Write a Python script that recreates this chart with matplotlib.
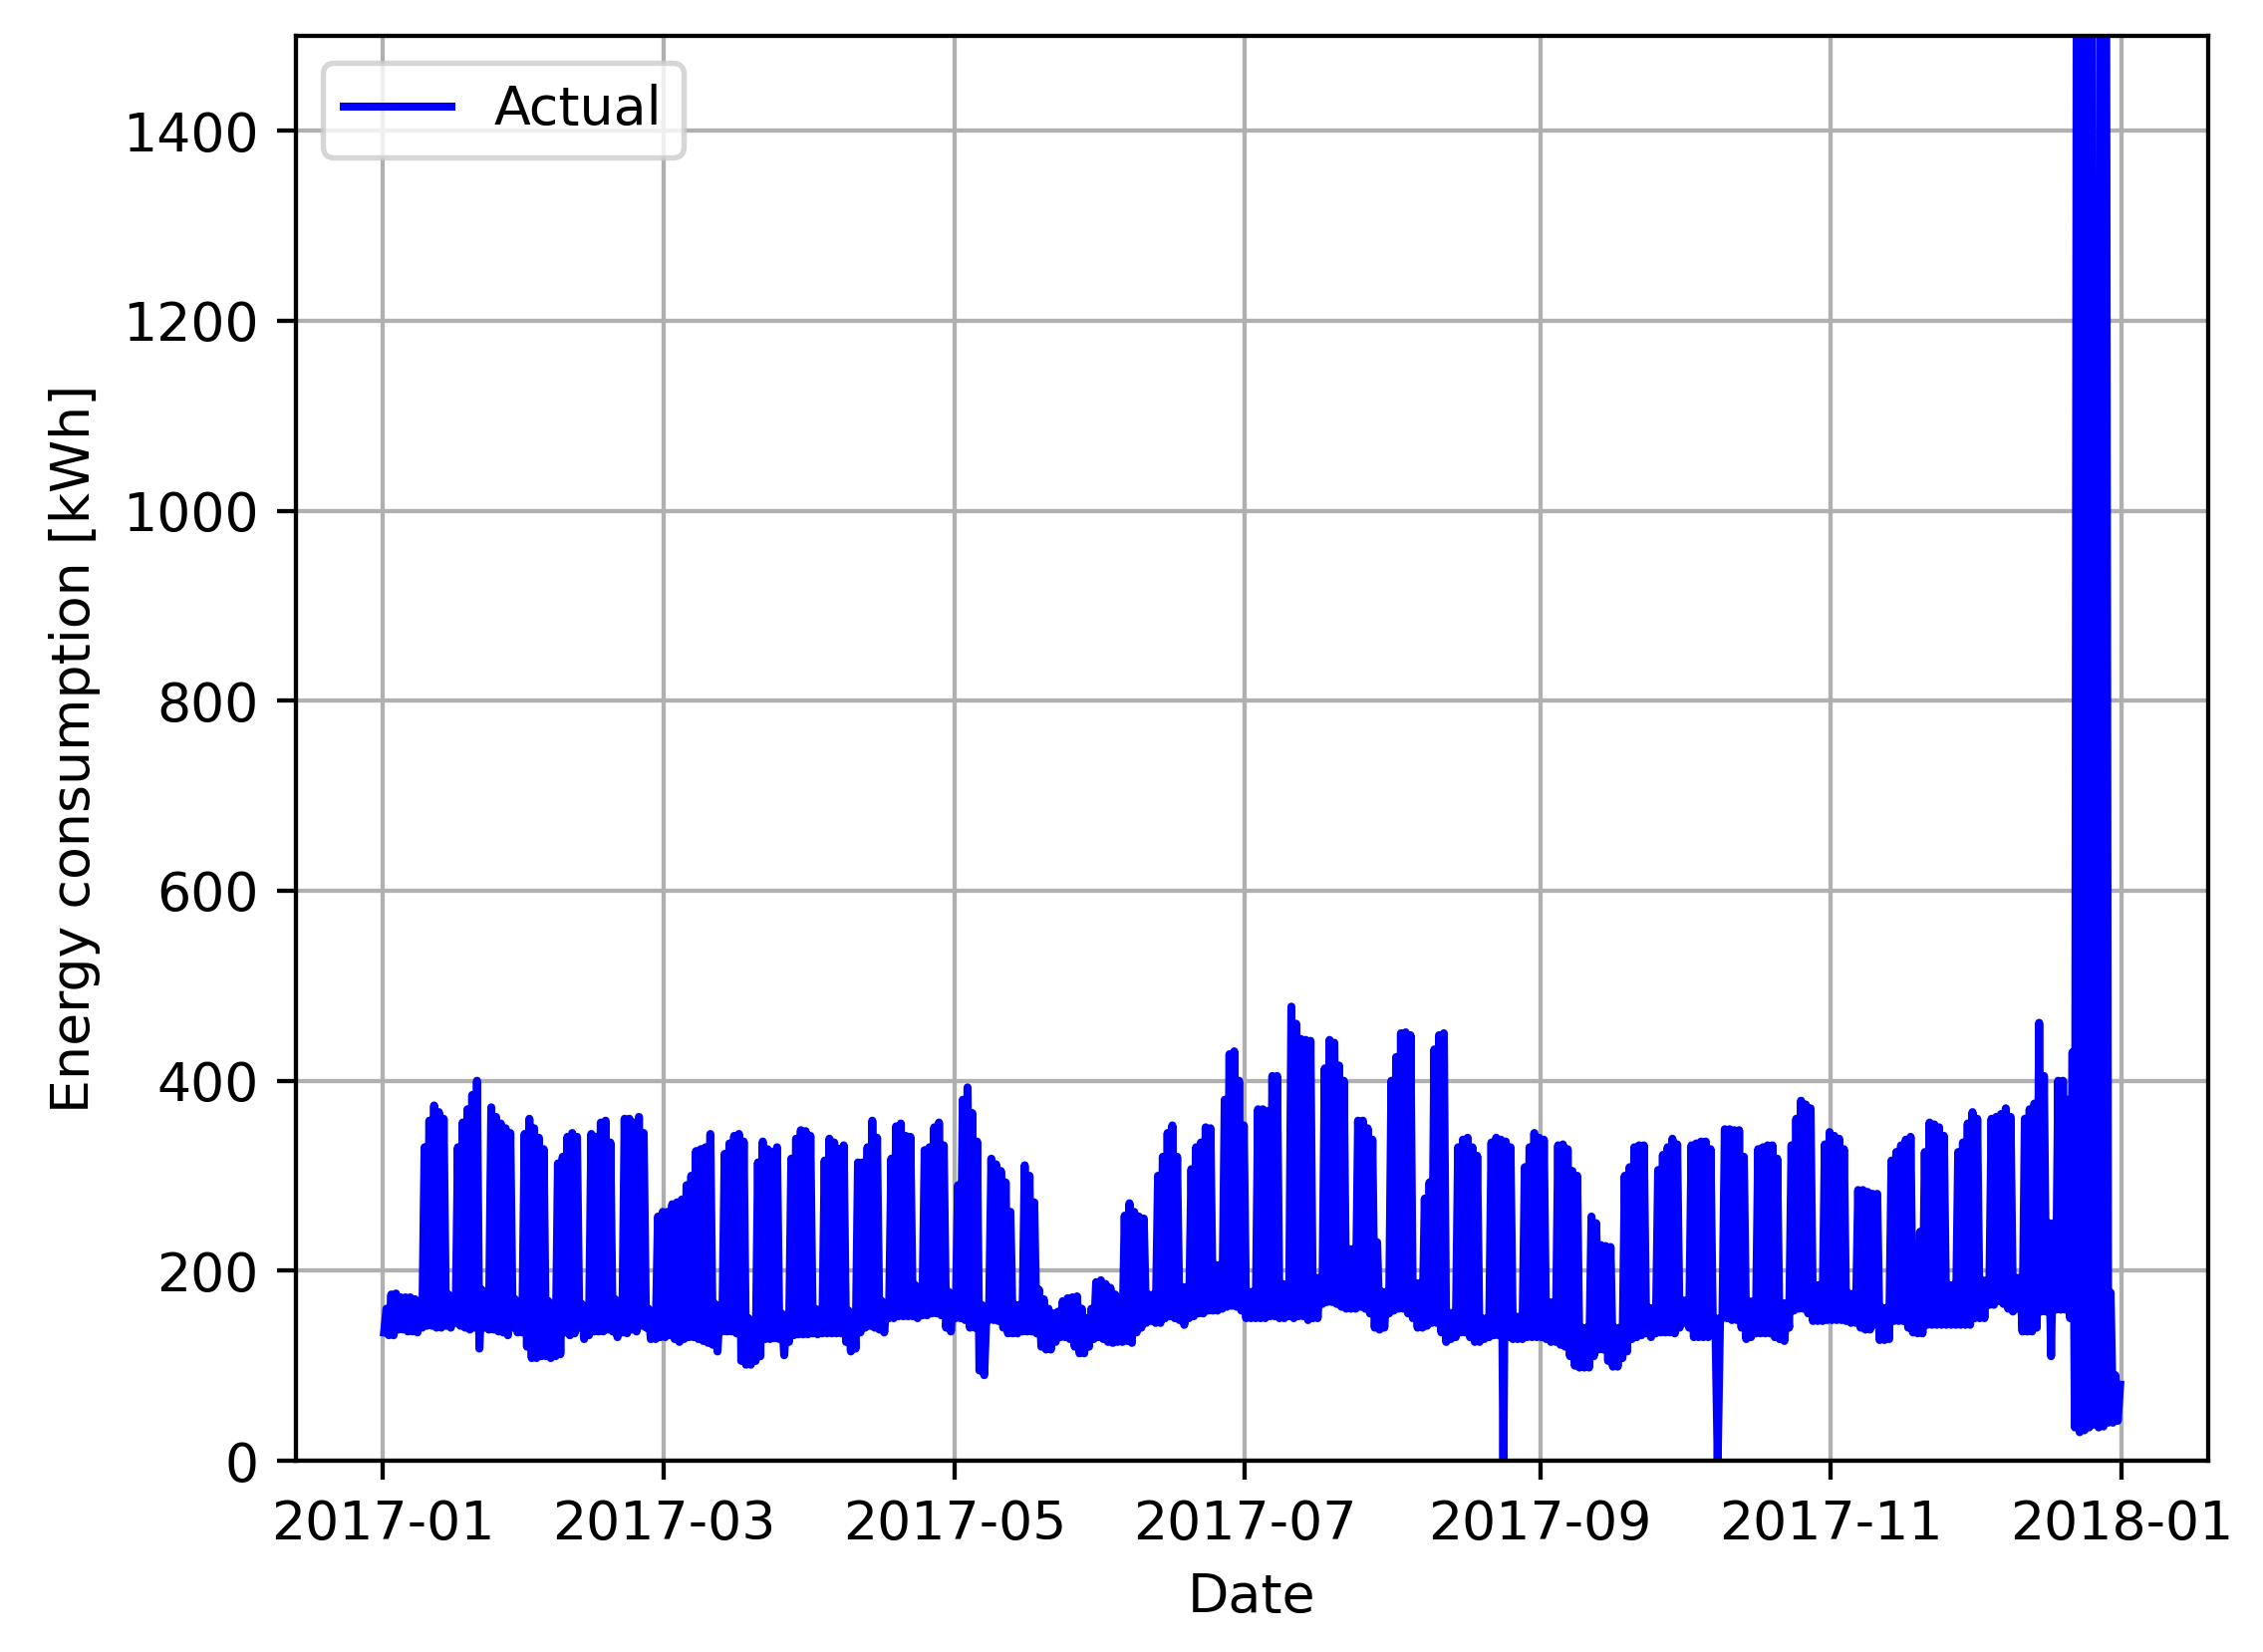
import numpy as np
import pandas as pd
import matplotlib
matplotlib.use('Agg')
import matplotlib.pyplot as plt
import matplotlib.dates as mdates

# daily maximum / minimum of the hourly consumption [kWh]
peak_jan = [160, 175, 176, 172, 172, 172, 170, 165,
            330, 358, 374, 367, 360, 175, 170,
            330, 356, 370, 385, 400, 180, 176,
            372, 362, 355, 350, 345, 170, 164,
            344, 360]
low_jan = [135, 132, 132, 138, 138, 136, 136, 135,
           140, 142, 142, 140, 140, 142, 140,
           145, 142, 140, 138, 140, 118, 140,
           138, 138, 136, 135, 132, 140, 135,
           135, 120]

peak_feb = [350, 340, 328, 168, 154,
            313, 320, 341, 345, 341, 165, 161,
            344, 341, 356, 358, 335, 170, 164,
            360, 360, 356, 362, 345, 160, 154,
            257, 262]
low_feb = [108, 108, 110, 110, 108,
           110, 112, 135, 132, 134, 140, 128,
           132, 136, 136, 136, 138, 136, 130,
           135, 134, 138, 136, 142, 140, 128,
           128, 130]

peak_mar = [262, 270, 272, 275, 290, 300, 326, 328, 330, 344, 165, 163,
            323, 334, 342, 344, 336, 150, 143,
            314, 336, 328, 325, 330, 155, 150,
            318, 339, 348, 347, 342]
low_mar = [130, 132, 128, 125, 128, 130, 130, 128, 126, 124, 122, 115,
           136, 136, 136, 134, 105, 101, 101,
           105, 110, 128, 128, 129, 128, 111,
           125, 132, 133, 133, 133]

peak_apr = [160, 159,
            316, 339, 335, 328, 332, 158, 154,
            314, 314, 330, 358, 340, 168, 166,
            318, 352, 355, 342, 341, 185, 183,
            327, 330, 351, 356, 332, 178, 175]
low_apr = [134, 133,
           134, 134, 134, 134, 134, 125, 115,
           118, 135, 140, 142, 140, 138, 135,
           150, 150, 152, 152, 152, 152, 150,
           153, 153, 155, 155, 153, 140, 136]

peak_may = [290, 380, 393, 366, 336, 164, 160,
            318, 312, 305, 293, 262, 164, 164,
            311, 300, 272, 180, 170, 160, 155,
            157, 168, 171, 172, 173, 160, 150,
            160, 188, 190]
low_may = [150, 150, 148, 140, 140, 95, 90,
           148, 148, 147, 140, 134, 134, 134,
           136, 136, 136, 134, 120, 117, 117,
           125, 130, 130, 128, 120, 113, 113,
           120, 128, 130]

peak_jun = [186, 182, 175, 170,
            258, 271, 262, 257, 255, 175, 175,
            300, 320, 345, 353, 320, 183, 183,
            307, 330, 335, 351, 350, 206, 206,
            380, 428, 431, 400, 353]
low_jun = [128, 125, 124, 125,
           125, 126, 124, 135, 140, 145, 147,
           145, 145, 150, 152, 150, 148, 143,
           150, 152, 155, 155, 158, 158, 158,
           160, 162, 163, 162, 158]

peak_jul = [178, 178,
            370, 370, 368, 405, 405, 186, 186,
            478, 460, 444, 443, 442, 193, 193,
            413, 443, 440, 416, 400, 223, 223,
            358, 358, 350, 338, 230, 178, 178,
            400]
low_jul = [150, 150,
           150, 150, 150, 152, 152, 150, 150,
           152, 150, 152, 152, 148, 150, 150,
           165, 167, 167, 165, 162, 160, 160,
           160, 162, 160, 155, 140, 138, 140,
           155]

peak_aug = [425, 450, 451, 448, 187, 187,
            276, 293, 433, 448, 450, 156, 156,
            330, 338, 340, 330, 321, 150, 150,
            335, 340, 338, 336, 330, 152, 152,
            309, 330, 345, 340]
low_aug = [158, 160, 160, 155, 150, 140,
           140, 142, 145, 145, 135, 125, 128,
           130, 135, 135, 130, 125, 125, 128,
           130, 132, 132, 0, 130, 128, 128,
           128, 130, 130, 130]

peak_sep = [338, 167, 167,
            332, 333, 328, 305, 300, 140, 140,
            257, 250, 227, 226, 225, 140, 140,
            300, 309, 330, 332, 332, 161, 161,
            306, 322, 330, 339, 333, 169]
low_sep = [130, 128, 125,
           125, 122, 120, 110, 100, 98, 98,
           98, 110, 117, 117, 105, 99, 99,
           108, 115, 128, 130, 132, 134, 130,
           134, 135, 135, 135, 134, 140]

peak_oct = [169,
            332, 334, 336, 336, 328, 150, 150,
            349, 349, 348, 348, 320, 168, 168,
            328, 330, 332, 332, 318, 166, 166,
            332, 360, 379, 375, 371, 185, 185,
            333, 346]
low_oct = [145,
           140, 130, 130, 130, 130, 135, 0,
           150, 150, 148, 148, 140, 128, 130,
           134, 134, 134, 134, 130, 128, 126,
           140, 158, 160, 160, 155, 147, 147,
           147, 148]

peak_nov = [342, 339, 328, 176, 176,
            285, 285, 283, 281, 281, 161, 161,
            316, 325, 332, 338, 341, 200, 241,
            325, 356, 354, 351, 342, 185, 185,
            325, 335, 355, 367]
low_nov = [148, 148, 148, 147, 145,
           145, 140, 138, 138, 143, 127, 127,
           128, 147, 147, 147, 140, 135, 134,
           134, 143, 143, 143, 143, 143, 143,
           143, 143, 143, 143]

peak_dec = [360, 190, 190,
            360, 362, 365, 371, 362, 193, 193,
            360, 370, 376, 461, 405, 250, 250,
            400, 400, 380, 430, 2000, 2200, 2100,
            1900, 227, 2000, 1800, 177, 90, 80]
low_dec = [150, 150, 150,
           164, 164, 168, 165, 160, 157, 160,
           136, 136, 136, 140, 157, 157, 110,
           159, 159, 159, 150, 35, 30, 32,
           35, 38, 35, 36, 40, 40, 42]

peaks = (peak_jan + peak_feb + peak_mar + peak_apr + peak_may + peak_jun +
         peak_jul + peak_aug + peak_sep + peak_oct + peak_nov + peak_dec)
lows = (low_jan + low_feb + low_mar + low_apr + low_may + low_jun +
        low_jul + low_aug + low_sep + low_oct + low_nov + low_dec)

days = pd.date_range('2017-01-01', '2017-12-31', freq='D')
assert len(days) == len(peaks) == len(lows)

# night minimum then daytime maximum for every day
t = np.empty(2 * len(days), dtype='datetime64[ns]')
t[0::2] = (days + pd.Timedelta(hours=6)).values
t[1::2] = (days + pd.Timedelta(hours=18)).values
y = np.empty(2 * len(days))
y[0::2] = lows
y[1::2] = peaks

fig = plt.figure(figsize=(2271 / 387, 1658 / 387), dpi=387)
ax = fig.add_axes([0.1308, 0.1158, 0.845, 0.8625])

ax.plot(t, y, color='blue', linewidth=1.5, label='Actual')

start = pd.Timestamp('2017-01-01')
end = pd.Timestamp('2018-01-01')
pad = (end - start) * 0.05
ax.set_xlim(start - pad, end + pad)
ax.set_ylim(0, 1500)

ax.xaxis.set_major_locator(mdates.MonthLocator(bymonth=[1, 3, 5, 7, 9, 11]))
ax.xaxis.set_major_formatter(mdates.DateFormatter('%Y-%m'))

ax.set_xlabel('Date')
ax.set_ylabel('Energy consumption [kWh]')
ax.grid(True)
ax.legend(loc='upper left')

fig.savefig('out.png', dpi=387)
